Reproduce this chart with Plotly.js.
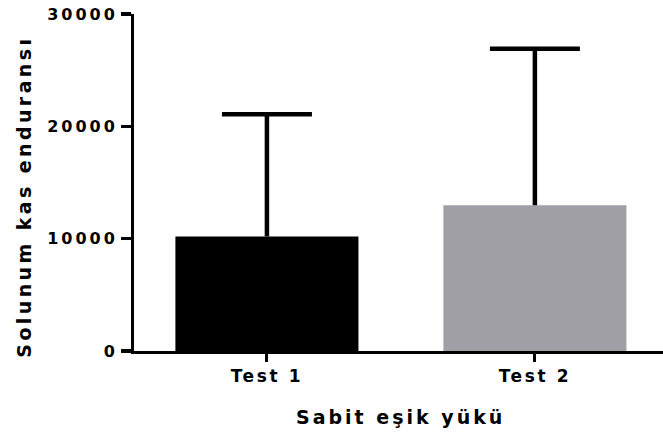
<!DOCTYPE html>
<html>
<head>
<meta charset="utf-8">
<script src="https://cdn.plot.ly/plotly-3.0.1.min.js"></script>
<style>
  html, body { margin: 0; padding: 0; background: #fff; }
  #chart { width: 663px; height: 436px; }
  /* widely tracked bold lettering */
  .xtick text { letter-spacing: 2.6px; font-weight: 700 !important; }
  .ytick text { letter-spacing: 3px; font-weight: 700 !important; }
  .annotation-text { letter-spacing: 3px; font-weight: 700 !important; }
  .ytitle-note .annotation-text { letter-spacing: 3.4px; }
</style>
</head>
<body>
<div id="chart"></div>
<script>
// Group labels, mean values and upper error limits
const categories = ['Test 1', 'Test 2'];
const means = [10200, 12980];
const upperLimits = [21070, 26900];
const barColors = ['#000000', '#a09fa5'];
const yTickValues = [0, 10000, 20000, 30000];
const yTickLabels = ['0', '10000', '20000', '30000'];
const xTitle = 'Sabit eşik yükü';
const yTitle = 'Solunum kas enduransı';

const errorsUp = upperLimits.map((u, i) => u - means[i]);

const font = { family: 'DejaVu Sans, Liberation Sans, sans-serif', color: '#000', weight: 700 };
const withSize = s => Object.assign({}, font, { size: s });

// Bars with the upward stem of each error bar (no caps here)
const bars = {
  type: 'bar',
  x: categories,
  y: means,
  marker: { color: barColors, line: { width: 0 } },
  error_y: {
    type: 'data',
    symmetric: false,
    array: errorsUp,
    arrayminus: [0, 0],
    color: '#000',
    thickness: 4.5,
    width: 0
  },
  hoverinfo: 'skip'
};

// Cap drawn only at the upper end of each error bar
const caps = {
  type: 'scatter',
  mode: 'markers',
  x: categories,
  y: upperLimits,
  marker: { size: 1, opacity: 0 },
  error_y: {
    type: 'data',
    array: [0, 0],
    color: '#000',
    thickness: 4.5,
    width: 45
  },
  hoverinfo: 'skip'
};

const layout = {
  width: 663,
  height: 436,
  margin: { l: 134, r: 0, t: 14, b: 85 },
  paper_bgcolor: '#fff',
  plot_bgcolor: '#fff',
  showlegend: false,
  bargap: 0.317,
  font: font,
  xaxis: {
    type: 'category',
    range: [-0.496, 1.478],
    showgrid: false,
    zeroline: false,
    showline: true,
    linecolor: '#000',
    linewidth: 3,
    ticks: 'outside',
    ticklen: 8,
    tickwidth: 3,
    tickcolor: '#000',
    tickfont: withSize(17)
  },
  yaxis: {
    range: [0, 30000],
    tickvals: yTickValues,
    ticktext: yTickLabels,
    showgrid: false,
    zeroline: false,
    showline: true,
    linecolor: '#000',
    linewidth: 3,
    ticks: 'outside',
    ticklen: 10,
    tickwidth: 3.5,
    tickcolor: '#000',
    tickfont: withSize(16)
  },
  annotations: [
    {
      text: xTitle,
      xref: 'paper', yref: 'paper',
      x: 0.5, y: 0,
      xanchor: 'center', yanchor: 'middle',
      xshift: 1.5, yshift: -66,
      showarrow: false,
      font: withSize(19)
    },
    {
      text: yTitle,
      xref: 'paper', yref: 'paper',
      x: 0, y: 0.5,
      xanchor: 'center', yanchor: 'middle',
      xshift: -111, yshift: -14,
      textangle: -90,
      showarrow: false,
      font: withSize(19)
    }
  ]
};

Plotly.newPlot('chart', [bars, caps], layout, { displayModeBar: false, staticPlot: true }).then(gd => {
  // wider tracking for the vertical title
  const notes = gd.querySelectorAll('.annotation');
  if (notes[1]) notes[1].classList.add('ytitle-note');
});
</script>
</body>
</html>
